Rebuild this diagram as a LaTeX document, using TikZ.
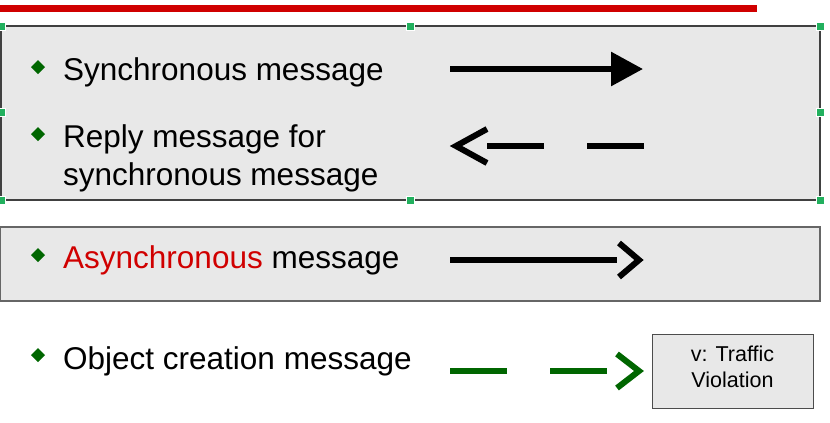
\documentclass[tikz,border=0pt]{standalone}
\usepackage{fontspec}
\setmainfont{Liberation Sans}
\usetikzlibrary{arrows.meta}
\definecolor{boxgray}{HTML}{E8E8E8}
\definecolor{titlered}{HTML}{D00000}
\definecolor{bulletgreen}{HTML}{006600}
\definecolor{handlegreen}{HTML}{22B05E}
\tikzset{
  panel/.style={fill=boxgray, draw=black!75, line width=1.2pt},
  label/.style={anchor=base west, inner sep=0pt, font=\fontsize{31.5}{38}\selectfont, align=left},
  sig/.style={line width=6pt, black},
  handle/.style={fill=handlegreen, draw=white, line width=0.8pt, minimum size=8pt, inner sep=0pt, shape=rectangle}
}
\newcommand{\bul}[2]{\fill[bulletgreen] (#1-7,#2) -- (#1,#2-7) -- (#1+7,#2) -- (#1,#2+7) -- cycle;}
\begin{document}
\begin{tikzpicture}[x=1pt,y=-1pt]
\useasboundingbox (0,0) rectangle (830,423);
% title rule
\fill[titlered] (0,4.5) rectangle (757,11.5);
% panel 1
\draw[panel] (1,26) rectangle (820,200);
% panel 2
\draw[panel, draw=black!60] (0,227) rectangle (820,301);
% bullets
\bul{38}{67}
\bul{38}{134}
\bul{38}{255}
\bul{38}{355}
% texts
\node[label] (t1) at (63,80) {Synchronous message};
\node[label] (t2a) at (63,147) {Reply message for};
\node[label] (t2b) at (63,185) {synchronous message};
\node[label] (t3) at (63,268) {\textcolor{titlered}{Asynchronous} message};
\node[label] (t4) at (63,369) {Object creation message};
% synchronous arrow
\coordinate (sa) at (450,69);
\coordinate (sb) at (643,69);
\draw[sig, -{Triangle[length=32pt,width=33pt]}] (sa) -- (sb);
% reply arrow
\coordinate (ra) at (456,146);
\coordinate (ru) at (487,129);
\coordinate (rd) at (487,163);
\draw[sig, miter limit=10] (ru) -- (ra) -- (rd);
\draw[sig] (487,146) -- (544,146);
\draw[sig] (587,146) -- (644,146);
% asynchronous arrow
\coordinate (aa) at (450,260);
\coordinate (ab) at (639,260);
\draw[sig] (aa) -- (617,260);
\draw[sig, miter limit=10] (619,243) -- (ab) -- (619,277);
% object creation
\node[draw=black!70, fill=boxgray, line width=1pt, minimum width=161pt, minimum height=74pt, inner sep=0pt] (obj) at (732.5,371) {};
\node[inner sep=0pt, align=center, font=\fontsize{21.5}{26.5}\selectfont] (objtext) at (732.5,367) {v: Traffic\\Violation};
\coordinate (ca) at (450,371);
\draw[sig, bulletgreen] (ca) -- (507,371);
\draw[sig, bulletgreen] (550,371) -- (607,371);
\draw[sig, bulletgreen, miter limit=10] (617,354) -- (639,371) -- (617,388);
% selection handles
\foreach \n/\p in {h1/{(1,26)},h2/{(410,26)},h3/{(820,26)},h4/{(1,112)},h5/{(820,112)},h6/{(1,200)},h7/{(410,200)},h8/{(820,200)}}
  \node[handle] (\n) at \p {};
\end{tikzpicture}
\end{document}
